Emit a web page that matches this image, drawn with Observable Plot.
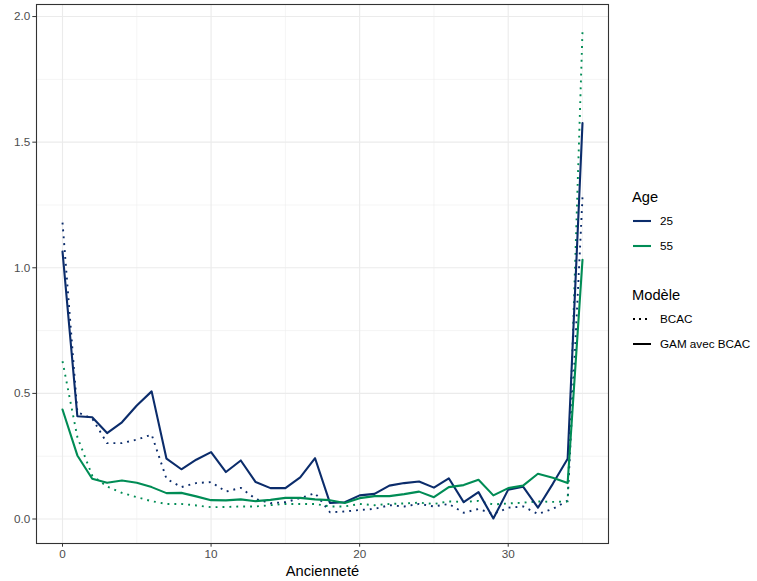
<!DOCTYPE html>
<html><head><meta charset="utf-8">
<script src="https://cdn.jsdelivr.net/npm/d3@7"></script>
<script src="https://cdn.jsdelivr.net/npm/@observablehq/plot@0.6"></script>
<style>
body{margin:0;background:#fff;font-family:"Liberation Sans",Arial,sans-serif;}
#wrap{position:relative;width:757px;height:581px;overflow:hidden;}
#legend{position:absolute;left:632px;top:186px;color:#000;}
.ltitle{font-size:14.7px;height:22px;line-height:22px;}
.litem{display:flex;align-items:center;height:25px;font-size:11.7px;}
.litem svg{margin-right:8px;}
.gap{height:26px;}
</style></head><body>
<div id="wrap"><div id="chart"></div><div id="legend"></div></div>
<script>
const anciennete = [0,1,2,3,4,5,6,7,8,9,10,11,12,13,14,15,16,17,18,19,20,21,22,23,24,25,26,27,28,29,30,31,32,33,34,35];
const gam25  = [1.065,0.409,0.405,0.342,0.385,0.452,0.508,0.240,0.198,0.236,0.266,0.187,0.233,0.147,0.123,0.123,0.166,0.242,0.064,0.067,0.094,0.100,0.133,0.143,0.149,0.125,0.162,0.067,0.107,0.002,0.117,0.129,0.045,0.140,0.240,1.576];
const gam55  = [0.436,0.253,0.160,0.144,0.153,0.144,0.127,0.103,0.104,0.090,0.075,0.074,0.078,0.071,0.076,0.084,0.084,0.078,0.075,0.064,0.083,0.091,0.091,0.099,0.109,0.087,0.127,0.135,0.156,0.094,0.123,0.133,0.180,0.164,0.143,1.032];
const bcac25 = [1.180,0.425,0.400,0.302,0.302,0.316,0.336,0.160,0.127,0.143,0.147,0.109,0.124,0.080,0.063,0.067,0.083,0.103,0.027,0.030,0.036,0.040,0.055,0.050,0.060,0.050,0.060,0.025,0.040,0.020,0.045,0.050,0.020,0.040,0.073,1.281];
const bcac55 = [0.628,0.326,0.173,0.129,0.104,0.087,0.071,0.060,0.060,0.054,0.047,0.048,0.050,0.050,0.055,0.060,0.060,0.060,0.050,0.050,0.060,0.055,0.060,0.062,0.065,0.060,0.070,0.068,0.072,0.058,0.062,0.065,0.070,0.068,0.070,1.942];
const ages = ["25","55"];
const modeles = ["BCAC","GAM avec BCAC"];
const colors = ["#0b2c6b","#008c55"];
const xTicks = [0,10,20,30];
const xMinor = [5,15,25,35];
const yTicks = [0,0.5,1,1.5,2];
const yMinor = [0.25,0.75,1.25,1.75];
const xTitle = "Ancienneté";

const rows = [];
const series = [[bcac25,"25","BCAC"],[bcac55,"55","BCAC"],[gam25,"25","GAM avec BCAC"],[gam55,"55","GAM avec BCAC"]];
for (const [vals, age, mod] of series) {
  vals.forEach((v,i)=>rows.push({x:anciennete[i], y:v, age, mod, key:age+mod}));
}

const chart = Plot.plot({
  width: 757, height: 581,
  marginLeft: 36, marginRight: 149, marginTop: 4, marginBottom: 38,
  style: {fontFamily: '"Liberation Sans",Arial,sans-serif', background: "#fff"},
  x: {domain: [-1.75, 36.75]},
  y: {domain: [-0.0975, 2.048]},
  color: {domain: ages, range: colors},
  marks: [
    Plot.gridX(xMinor, {stroke: "#ebebeb", strokeOpacity: 1, strokeWidth: 0.55}),
    Plot.gridY(yMinor, {stroke: "#ebebeb", strokeOpacity: 1, strokeWidth: 0.55}),
    Plot.gridX(xTicks, {stroke: "#ebebeb", strokeOpacity: 1, strokeWidth: 1.1}),
    Plot.gridY(yTicks, {stroke: "#ebebeb", strokeOpacity: 1, strokeWidth: 1.1}),
    Plot.line(rows.filter(d=>d.mod==="BCAC"), {x:"x", y:"y", z:"key", stroke:"age", strokeWidth:1.9, strokeDasharray:"1.9,5", strokeLinecap:"butt"}),
    Plot.line(rows.filter(d=>d.mod!=="BCAC"), {x:"x", y:"y", z:"key", stroke:"age", strokeWidth:2.1}),
    Plot.frame({stroke:"#333", strokeWidth:1.1}),
    Plot.axisX({ticks: xTicks, tickSize: 3.7, tickPadding: 2.5, fontSize: 11.7, color:"#4d4d4d", stroke:"#333", label: xTitle, labelArrow: "none", labelAnchor:"center", labelOffset: 32}),
    Plot.axisY({ticks: yTicks, tickSize: 3.7, tickPadding: 2.5, fontSize: 11.7, color:"#4d4d4d", stroke:"#333", tickFormat: d3.format(".1f"), label: null})
  ]
});
document.getElementById("chart").appendChild(chart);
d3.select(chart).selectAll('[aria-label="x-axis label"] text').attr("fill","#000").style("font-size","14.7px").text(xTitle);
d3.select(chart).selectAll('[aria-label="x-axis tick"]').attr("stroke","#333");
d3.select(chart).selectAll('[aria-label="y-axis tick"]').attr("stroke","#333");

// legend
const lg = d3.select("#legend");
lg.append("div").attr("class","ltitle").text("Age");
ages.forEach((a,i)=>{
  const it = lg.append("div").attr("class","litem");
  const s = it.append("svg").attr("width",20).attr("height",10);
  s.append("line").attr("x1",1).attr("x2",19).attr("y1",5).attr("y2",5).attr("stroke",colors[i]).attr("stroke-width",2.1);
  it.append("span").text(a);
});
lg.append("div").attr("class","gap");
lg.append("div").attr("class","ltitle").text("Modèle");
modeles.forEach((m,i)=>{
  const it = lg.append("div").attr("class","litem");
  const s = it.append("svg").attr("width",20).attr("height",10);
  s.append("line").attr("x1",1).attr("x2",19).attr("y1",5).attr("y2",5).attr("stroke","#000").attr("stroke-width",2)
    .attr("stroke-dasharray", i===0 ? "2,4" : null);
  it.append("span").text(m);
});
</script>
</body></html>
